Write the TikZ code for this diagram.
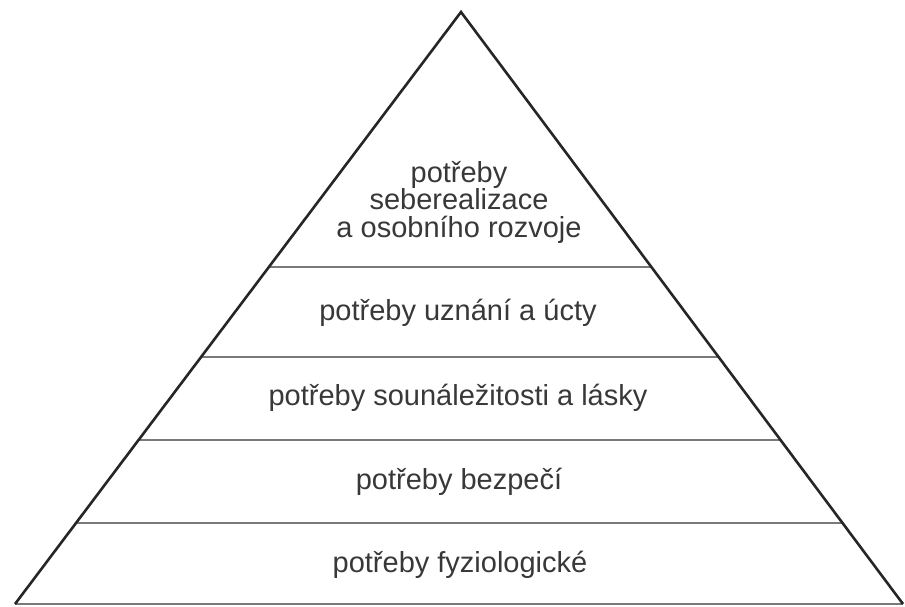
\documentclass[tikz,border=0pt]{standalone}
\usepackage{fontspec}
\setmainfont{Liberation Sans}
\usetikzlibrary{calc}
\definecolor{sidecol}{HTML}{262626}
\definecolor{linecol}{HTML}{7A7A7A}
\definecolor{txtcol}{HTML}{383838}
\begin{document}
\begin{tikzpicture}[x=1pt,y=-1pt,
  side/.style={draw=sidecol,line width=2.6pt,line join=miter},
  divider/.style={draw=linecol,line width=2pt},
  lbl/.style={text=txtcol,font=\fontsize{29}{27.5}\selectfont,align=center,inner sep=0pt}]
\useasboundingbox (0,0) rectangle (905,606);
\coordinate (apex) at (461,12);
\coordinate (bl) at (15,604);
\coordinate (br) at (903,604);
% divider end points on the sides
\coordinate (l1) at ($(apex)!{(267-12)/592}!(bl)$);
\coordinate (r1) at ($(apex)!{(267-12)/592}!(br)$);
\coordinate (l2) at ($(apex)!{(357-12)/592}!(bl)$);
\coordinate (r2) at ($(apex)!{(357-12)/592}!(br)$);
\coordinate (l3) at ($(apex)!{(440-12)/592}!(bl)$);
\coordinate (r3) at ($(apex)!{(440-12)/592}!(br)$);
\coordinate (l4) at ($(apex)!{(523-12)/592}!(bl)$);
\coordinate (r4) at ($(apex)!{(523-12)/592}!(br)$);
\draw[divider] (l1) -- (r1);
\draw[divider] (l2) -- (r2);
\draw[divider] (l3) -- (r3);
\draw[divider] (l4) -- (r4);
\draw[divider] (bl) -- (br);
\draw[side] (bl) -- (apex) -- (br);
\node[lbl] (t5) at (459,202) {potřeby\\seberealizace\\a osobního rozvoje};
\node[lbl] (t4) at (458,313) {potřeby uznání a úcty};
\node[lbl] (t3) at (458,398) {potřeby sounáležitosti a lásky};
\node[lbl] (t2) at (459,482) {potřeby bezpečí};
\node[lbl] (t1) at (460,565) {potřeby fyziologické};
\end{tikzpicture}
\end{document}
